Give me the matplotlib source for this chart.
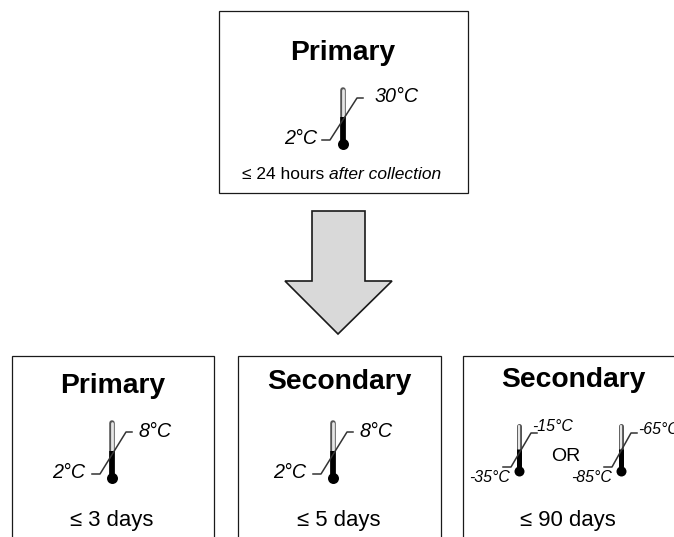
import matplotlib
matplotlib.use('Agg')
import matplotlib.pyplot as plt
from matplotlib.patches import Rectangle, Polygon

plt.rcParams['font.family'] = ['Liberation Sans', 'DejaVu Sans']

# text content
top_title = 'Primary'
top_low = '2°C'
top_high = '30°C'
bottom_titles = ['Primary', 'Secondary', 'Secondary']
bottom_low = ['2°C', '2°C', '-35°C', '-85°C']
bottom_high = ['8°C', '8°C', '-15°C', '-65°C']
bottom_times = ['≤ 3 days', '≤ 5 days', '≤ 90 days']

fig = plt.figure(figsize=(6.74, 5.37), dpi=100)
ax = fig.add_axes([0, 0, 1, 1])
ax.set_xlim(0, 674)
ax.set_ylim(537, 0)
ax.axis('off')


def box(x0, y0, x1, y1):
    ax.add_patch(Rectangle((x0, y0), x1 - x0, y1 - y0, fc='white', ec='#1a1a1a', lw=0.9))


def thermometer(x, top, bulb, r, left, right, yl, yh, tube=4.0):
    # tube, then the black column and bulb, then the slanted range line
    ax.plot([x, x], [top, bulb], color='#555555', lw=tube, solid_capstyle='round', zorder=3)
    ax.plot([x, x], [top, bulb], color='#e6e6e6', lw=tube - 2.0, solid_capstyle='round', zorder=4)
    ax.plot([x, x], [top + (bulb - top) * 0.5, bulb], color='black', lw=tube, solid_capstyle='butt', zorder=5)
    ax.plot([x], [bulb], 'o', color='black', ms=r * 2 * 0.72, mew=0, zorder=6)
    ax.plot([left, left + 8, right - 6, right], [yl, yl, yh, yh], color='#333333', lw=1.1, zorder=7)


# upper box
box(219, 11, 468, 193)
ax.text(343, 60, top_title, fontsize=20.3, fontweight='bold', ha='center', va='baseline')
thermometer(343, 90, 144, 5.5, 322, 363, 140, 98)
ax.text(284, 144, top_low, fontsize=14.2, style='italic', ha='left', va='baseline')
ax.text(375, 102, top_high, fontsize=14.2, style='italic', ha='left', va='baseline')
t = ax.text(242, 179, '≤ 24 hours ', fontsize=12.5, ha='left', va='baseline')
fig.canvas.draw()
bb = t.get_window_extent()
ax.text(bb.x1, 179, 'after collection', fontsize=12.5, style='italic', ha='left', va='baseline')

# arrow
ax.add_patch(Polygon([(312, 211), (365, 211), (365, 281), (392, 281), (338, 334), (285, 281), (312, 281)],
                     closed=True, fc='#d9d9d9', ec='#1a1a1a', lw=1.2))

# lower boxes run off the bottom and right of the picture
box(12, 356, 214, 560)
box(238, 356, 441, 560)
box(463, 356, 700, 560)

ax.text(113, 393, bottom_titles[0], fontsize=20.3, fontweight='bold', ha='center', va='baseline')
ax.text(339, 389, bottom_titles[1], fontsize=20.3, fontweight='bold', ha='center', va='baseline')
ax.text(573, 387, bottom_titles[2], fontsize=20.3, fontweight='bold', ha='center', va='baseline')

thermometer(112, 423, 478, 5.5, 92, 132, 474, 432)
ax.text(52, 478, bottom_low[0], fontsize=14.2, style='italic', ha='left', va='baseline')
ax.text(138, 437, bottom_high[0], fontsize=14.2, style='italic', ha='left', va='baseline')

thermometer(333, 423, 478, 5.5, 313, 353, 474, 432)
ax.text(273, 478, bottom_low[1], fontsize=14.2, style='italic', ha='left', va='baseline')
ax.text(359, 437, bottom_high[1], fontsize=14.2, style='italic', ha='left', va='baseline')

thermometer(519, 426, 471, 5, 503, 537, 467, 433, tube=3.6)
ax.text(469, 482, bottom_low[2], fontsize=11.4, style='italic', ha='left', va='baseline')
ax.text(532, 431, bottom_high[2], fontsize=11.4, style='italic', ha='left', va='baseline')
ax.text(566, 461, 'OR', fontsize=14, ha='center', va='baseline')
thermometer(621, 426, 471, 5, 604, 637, 467, 433, tube=3.6)
ax.text(571, 482, bottom_low[3], fontsize=11.4, style='italic', ha='left', va='baseline')
ax.text(638, 434, bottom_high[3], fontsize=11.4, style='italic', ha='left', va='baseline')

ax.text(112, 526, bottom_times[0], fontsize=15.9, ha='center', va='baseline')
ax.text(339, 526, bottom_times[1], fontsize=15.9, ha='center', va='baseline')
ax.text(568, 526, bottom_times[2], fontsize=15.9, ha='center', va='baseline')

fig.savefig('out.png', dpi=100, facecolor='white')
